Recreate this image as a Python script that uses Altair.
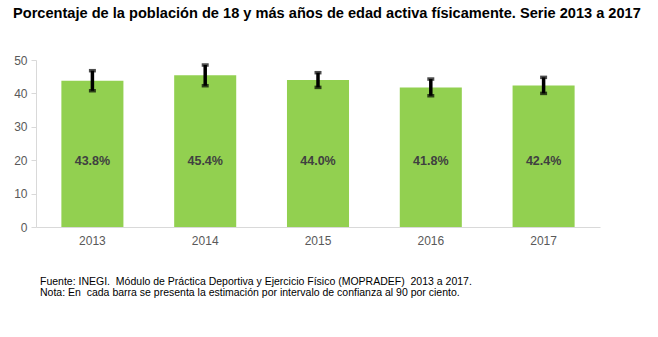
import altair as alt
import pandas as pd

years = ["2013", "2014", "2015", "2016", "2017"]
values = [43.8, 45.4, 44.0, 41.8, 42.4]
lower = [40.8, 42.3, 41.8, 39.3, 40.0]
upper = [46.8, 48.5, 46.2, 44.3, 44.8]
labels = ["43.8%", "45.4%", "44.0%", "41.8%", "42.4%"]
y_ticks = [0, 10, 20, 30, 40, 50]

title_text = "Porcentaje de la población de 18 y más años de edad activa físicamente. Serie 2013 a 2017"
notes = [
    "Fuente: INEGI.\u00a0 Módulo de Práctica Deportiva y Ejercicio Físico (MOPRADEF)\u00a0 2013 a 2017.",
    "Nota: En\u00a0 cada barra se presenta la estimación por intervalo de confianza al 90 por ciento.",
]

df = pd.DataFrame({"year": years, "value": values, "lo": lower, "hi": upper, "label": labels})

FONT = "Liberation Sans"

x_axis = alt.Axis(labelAngle=0, labelFont=FONT, labelFontSize=12, labelColor="#595959",
                  domainColor="#d9d9d9", ticks=False, labelPadding=8)
y_axis = alt.Axis(values=y_ticks, tickCount=6, grid=False, labelFont=FONT, labelFontSize=12,
                  labelColor="#595959", domainColor="#d9d9d9", tickColor="#d9d9d9",
                  tickSize=5, labelPadding=4, labelOverlap=False, labelBound=False,
                  labelFlush=False)
x_scale = alt.Scale(paddingInner=0.45, paddingOuter=0.225)
y_scale = alt.Scale(domain=[0, 50], nice=False)

def X():
    return alt.X("year:N", title=None, scale=x_scale, axis=x_axis)

def Y(field):
    return alt.Y(field, title=None, scale=y_scale, axis=y_axis)

base = alt.Chart(df)
bars = base.mark_bar(color="#92d050").encode(x=X(), y=Y("value:Q"))
rules = base.mark_rule(color="black", strokeWidth=3.5).encode(x=X(), y=Y("lo:Q"), y2="hi:Q")
caps_lo = base.mark_tick(color="black", orient="horizontal", size=7, thickness=3.5).encode(x=X(), y=Y("lo:Q"))
caps_hi = base.mark_tick(color="black", orient="horizontal", size=7, thickness=3.5).encode(x=X(), y=Y("hi:Q"))
txt = base.mark_text(font=FONT, fontSize=12.5, fontWeight="bold", color="#404040", baseline="middle").encode(
    x=X(), y=alt.datum(19.8, axis=y_axis, scale=y_scale, title=None), text="label:N")

title = alt.Chart(pd.DataFrame({"t": [title_text]})).mark_text(
    font=FONT, fontSize=14.6, fontWeight="bold", color="black", align="left", baseline="middle"
).encode(x=alt.value(-23), y=alt.value(-46), text="t:N")

note1 = alt.Chart(pd.DataFrame({"t": [notes[0]]})).mark_text(
    font=FONT, fontSize=10.5, color="black", align="left", baseline="middle"
).encode(x=alt.value(4), y=alt.value(222), text="t:N")
note2 = alt.Chart(pd.DataFrame({"t": [notes[1]]})).mark_text(
    font=FONT, fontSize=10.5, color="black", align="left", baseline="middle"
).encode(x=alt.value(4), y=alt.value(233), text="t:N")

chart = alt.layer(bars, rules, caps_lo, caps_hi, txt, title, note1, note2).properties(
    width=564, height=167,
    autosize=alt.AutoSizeParams(type="none"),
    padding={"left": 36, "top": 60, "right": 58, "bottom": 110},
).configure_view(stroke=None)

chart.save("out.html", embed_options={"renderer": "svg", "actions": False})
